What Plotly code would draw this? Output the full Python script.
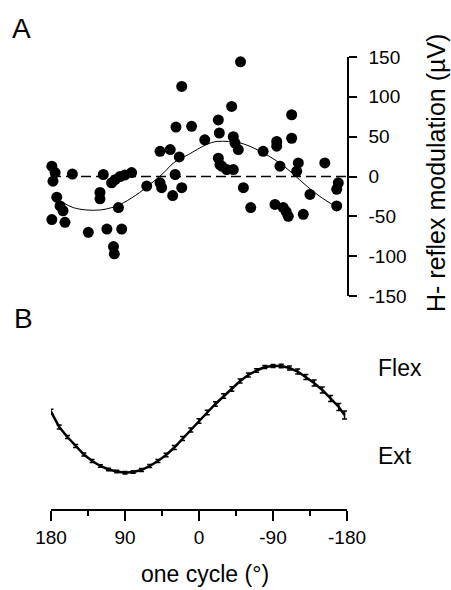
import plotly.graph_objects as go

# ---- Panel A: H-reflex modulation scatter (phase in degrees, µV) ----
phase_a = [179, 175, 177.6, 184, 173, 169, 165.4, 179, 163,
           154, 116.4, 120.4, 120.4, 106.3, 102, 96, 90, 82,
           98, 134.6, 112, 94, 104, 103,
           21, 28, 9, -23.5, -7, -24.7,
           47.4, 35, 24, -23.5, -27.6, -33.7,
           63.6, 47.4, 45.4, 29, 21, 32,
           -39.7, -41.7, -43.8, -47.8, -25.5, -41.7,
           -78, -94.5, -94.5, -112.7, -112.7, -98.5, -120.8, -118.8,
           -153, -54, -62.9, -92.4, -102.5, -106, -108.6, -126.8,
           -135, -169.4, -167.5, -167.5, -50.5]
hreflex = [12.9, 5, -5.9, -16, -26, -37, -43, -54, -57.5,
           3, 2.5, -20, -28, -8, -4, 0, 2, 5,
           -39, -70, -66, -66, -88, -97,
           113, 62, 63, 71, 46, 54.6,
           31.6, 33.75, 24.6, 23, 13, 8.75,
           -12, -8, -14, 2.5, -14, -24,
           88, 50, 42, 33.75, 15, 8.75,
           31.6, 44, 38, 77.5, 48, 13, 17, 6.6,
           17, -14, -39, -35, -39, -44, -50, -47.5,
           -22.5, -8, -16, -37, 144]

# fitted curve
fit_phase = [165, 153, 137, 120, 106, 92, 72, 55, 43, 31, 13, -9, -22,
             -50, -66, -82, -98, -113, -131, -147, -165]
fit_val = [-33, -39, -42, -42, -39, -33, -20, -6, 4.6, 17, 27.5, 40, 44,
           42, 36, 27.5, 17, 4.6, -12, -25, -37]

# ---- Panel B: joint angle over one cycle (arbitrary units) ----
phase_b = [180, 170, 160, 150, 140, 130, 120, 110, 100, 90, 80, 70, 60, 50,
           40, 30, 20, 10, 0, -10, -20, -30, -40, -50, -60, -70, -80, -90,
           -100, -110, -120, -130, -140, -150, -160, -170, -177]
angle_b = [61, 45.7, 35.7, 26.7, 18.2, 11.7, 6.7, 3.2, 1.2, 0, 0.7, 2.7, 6.7,
           11.7, 17.7, 25.2, 34.2, 42.7, 51.7, 60.2, 68.7, 76.7, 83.7, 91.7,
           97.7, 102.2, 105.7, 106.7, 106.7, 104.7, 101.2, 95.7, 89.7, 82.7,
           74.2, 65.7, 57.7]
angle_err = [2.5, 2, 1.5, 1.5, 1.5, 1.5, 1.2, 1.2, 1.2, 1.2, 1.2, 1.5, 1.5,
             1.5, 1.8, 2, 2, 2, 2.2, 2.2, 2.2, 2.2, 2.2, 2, 2, 1.8, 1.5, 1.5,
             1.8, 2, 2.5, 2.5, 3, 3, 3, 3.5, 4]

xticks = [180, 90, 0, -90, -180]
xtick_text = ["180", "90", "0", "-90", "-180"]
xticks_minor = [135, 45, -45, -135]
yticks_a = [150, 100, 50, 0, -50, -100, -150]
ytick_text_a = ["150", "100", "50", "0", "-50", "-100", "-150"]
ext_flex_pos = [16.7, 104.7]
ext_flex_text = ["Ext", "Flex"]

FONT = "Liberation Sans, Arial, sans-serif"
W, H = 451, 590

def px_x(p):
    return p / W

def px_y(p):
    return 1 - p / H

fig = go.Figure()

fig.add_trace(go.Scatter(
    x=fit_phase, y=fit_val, mode="lines", line=dict(color="black", width=1, shape="spline"),
    xaxis="x", yaxis="y", hoverinfo="skip", showlegend=False))

fig.add_trace(go.Scatter(
    x=phase_a, y=hreflex, mode="markers",
    marker=dict(color="black", size=11, line=dict(width=0)),
    xaxis="x", yaxis="y", cliponaxis=False, showlegend=False))

fig.add_trace(go.Scatter(
    x=phase_b, y=angle_b, mode="lines",
    line=dict(color="black", width=2.5),
    error_y=dict(type="data", array=angle_err, color="black", thickness=1.5, width=2.5),
    xaxis="x2", yaxis="y2", cliponaxis=False, showlegend=False))

xdom = [px_x(51), px_x(347)]

fig.update_layout(
    template="none",
    width=W, height=H, margin=dict(l=0, r=0, t=0, b=0, pad=0),
    paper_bgcolor="white", plot_bgcolor="white",
    font=dict(family=FONT, color="black", size=19),
    xaxis=dict(domain=xdom, range=[180, -180], visible=False, anchor="y",
               automargin=False),
    yaxis=dict(domain=[px_y(296), px_y(57)], range=[-150, 150], side="right",
               anchor="x", automargin=False, showgrid=False, zeroline=False,
               showline=True, linecolor="black", linewidth=1.5, ticks="outside",
               ticklen=8, tickwidth=1.5, tickcolor="black", tickmode="array",
               tickvals=yticks_a, ticktext=ytick_text_a, ticklabelstandoff=8,
               tickfont=dict(size=19, family=FONT)),
    xaxis2=dict(domain=xdom, range=[180, -180], anchor="y2", automargin=False,
                showgrid=False, zeroline=False, showline=True, linecolor="black",
                linewidth=1.5, ticks="outside", ticklen=10, tickwidth=1.5,
                tickcolor="black", tickmode="array", tickvals=xticks,
                ticktext=xtick_text,
                minor=dict(tickvals=xticks_minor, ticks="outside", ticklen=5,
                           tickwidth=1.5, tickcolor="black", showgrid=False),
                tickfont=dict(size=19, family=FONT)),
    yaxis2=dict(domain=[px_y(509), px_y(355)], range=[-36.3, 117.7], anchor="x2",
                visible=False, automargin=False),
    showlegend=False,
)

# dashed zero line in panel A
fig.add_shape(type="line", xref="x domain", yref="y", x0=0, x1=1, y0=0, y1=0,
              line=dict(color="black", width=1.5, dash="10px,5px"))

# Ext / Flex labels in panel B
for v, t in zip(ext_flex_pos, ext_flex_text):
    fig.add_annotation(xref="paper", yref="y2", x=px_x(376), y=v, text=t,
                       showarrow=False, xanchor="left", yanchor="middle",
                       font=dict(size=23, family=FONT))

fig.add_annotation(xref="paper", yref="paper", x=px_x(436), y=px_y(173),
                   text="H- reflex modulation (µV)", textangle=-90,
                   showarrow=False, xanchor="center", yanchor="middle",
                   font=dict(size=25, family=FONT))
fig.add_annotation(xref="paper", yref="paper", x=px_x(205), y=px_y(574),
                   text="one cycle (°)", showarrow=False, borderpad=0,
                   xanchor="center", yanchor="middle", font=dict(size=23, family=FONT))
fig.add_annotation(xref="paper", yref="paper", x=px_x(10), y=px_y(28), text="A",
                   showarrow=False, xanchor="left", yanchor="middle",
                   font=dict(size=28, family=FONT))
fig.add_annotation(xref="paper", yref="paper", x=px_x(12), y=px_y(318), text="B",
                   showarrow=False, xanchor="left", yanchor="middle",
                   font=dict(size=28, family=FONT))

fig.write_html("out.html")
